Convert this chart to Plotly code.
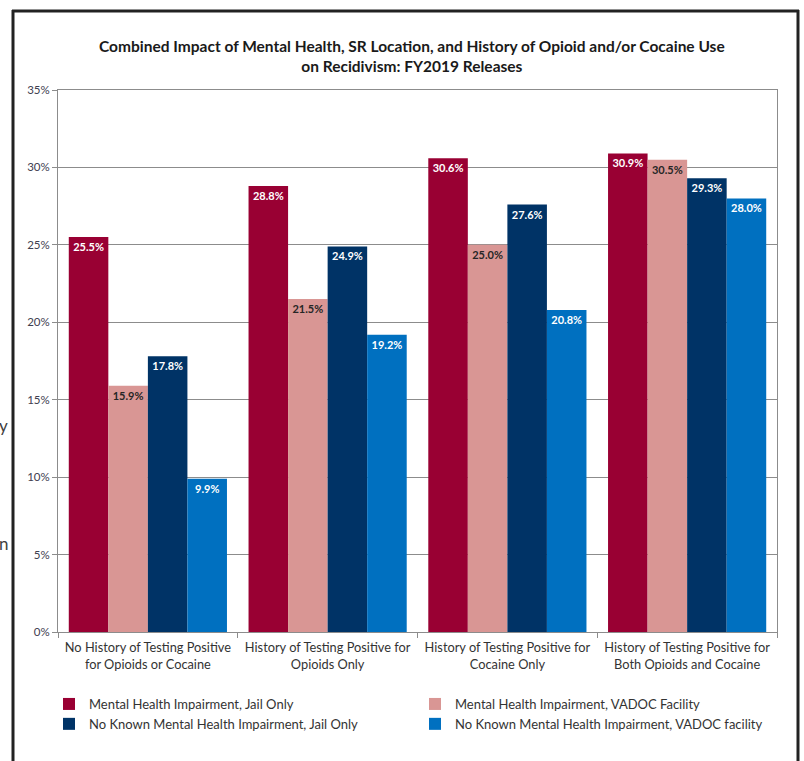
import plotly.graph_objects as go

categories = [
    "No History of Testing Positive<br>for Opioids or Cocaine",
    "History of Testing Positive for<br>Opioids Only",
    "History of Testing Positive for<br>Cocaine Only",
    "History of Testing Positive for<br>Both Opioids and Cocaine",
]
series_names = [
    "Mental Health Impairment, Jail Only",
    "Mental Health Impairment, VADOC Facility",
    "No Known Mental Health Impairment, Jail Only",
    "No Known Mental Health Impairment, VADOC facility",
]
mh_jail = [25.5, 28.8, 30.6, 30.9]
mh_vadoc = [15.9, 21.5, 25.0, 30.5]
nomh_jail = [17.8, 24.9, 27.6, 29.3]
nomh_vadoc = [9.9, 19.2, 20.8, 28.0]
y_ticks = [0, 5, 10, 15, 20, 25, 30, 35]

values = [mh_jail, mh_vadoc, nomh_jail, nomh_vadoc]
colors = ["#990033", "#D99694", "#003366", "#0070C0"]
label_colors = ["white", "#262626", "white", "white"]
legends = ["legend", "legend2", "legend", "legend2"]

FONT = "Lato, 'Open Sans', sans-serif"

fig = go.Figure()
for name, vals, c, lc, lg in zip(series_names, values, colors, label_colors, legends):
    fig.add_trace(go.Bar(
        x=categories, y=vals, name=name,
        marker=dict(color=c, line=dict(width=0)),
        text=[f"{v:.1f}%" for v in vals],
        textposition="inside", insidetextanchor="end", textangle=0,
        textfont=dict(family=FONT, size=11, color=lc, weight="bold"),
        legend=lg,
    ))

W, H = 804, 761
L, R, T, B = 58, 27, 90, 129
pw, ph = W - L - R, H - T - B

def px(x):
    return (x - L) / pw

def py(y):
    return (H - B - y) / ph

fig.update_layout(
    width=W, height=H,
    margin=dict(l=L, r=R, t=T, b=B),
    paper_bgcolor="white", plot_bgcolor="white",
    barmode="group", bargap=0.12, bargroupgap=0,
    font=dict(family=FONT, color="#333333"),
    showlegend=True,
    uniformtext=dict(mode="show", minsize=8),
    yaxis=dict(
        range=[0, 35], tickvals=y_ticks,
        ticktext=[f"{t}%" for t in y_ticks],
        showgrid=True, gridcolor="#8c8c8c", gridwidth=1,
        showline=True, linecolor="#8c8c8c", linewidth=1, mirror=True,
        ticks="outside", ticklen=5, tickcolor="#8c8c8c",
        tickfont=dict(size=11.5, color="#404050", family=FONT),
        zeroline=False, fixedrange=True,
    ),
    xaxis=dict(
        showline=True, linecolor="#8c8c8c", linewidth=1, mirror=True,
        ticks="outside", ticklen=5, tickcolor="#8c8c8c", tickson="boundaries",
        tickfont=dict(size=12.8, color="#333333", family=FONT),
        ticklabelstandoff=4,
        fixedrange=True,
    ),
    legend=dict(
        orientation="v", x=px(49), y=py(689), xanchor="left", yanchor="top",
        font=dict(size=13, color="#333333", family=FONT),
        bgcolor="rgba(0,0,0,0)", itemsizing="constant", tracegroupgap=0,
    ),
    legend2=dict(
        orientation="v", x=px(415), y=py(689), xanchor="left", yanchor="top",
        font=dict(size=13, color="#333333", family=FONT),
        bgcolor="rgba(0,0,0,0)", itemsizing="constant", tracegroupgap=0,
    ),
    annotations=[
        dict(text="<b>Combined Impact of Mental Health, SR Location, and History of Opioid and/or Cocaine Use<br>on Recidivism: FY2019 Releases</b>",
             x=px(412), y=py(56), xref="paper", yref="paper",
             xanchor="center", yanchor="middle", showarrow=False,
             font=dict(size=15.5, color="#1a1a1a", family=FONT)),
        dict(text="y", x=px(-2), y=py(425), xref="paper", yref="paper",
             xanchor="left", yanchor="middle", showarrow=False, borderpad=0,
             font=dict(size=17, color="#404040", family=FONT)),
        dict(text="n", x=px(-2), y=py(543), xref="paper", yref="paper",
             xanchor="left", yanchor="middle", showarrow=False, borderpad=0,
             font=dict(size=17, color="#404040", family=FONT)),
    ],
    shapes=[
        dict(type="line", xref="paper", yref="paper", x0=px(13), x1=px(13),
             y0=py(10), y1=py(770), line=dict(color="#222222", width=3)),
        dict(type="line", xref="paper", yref="paper", x0=px(798), x1=px(798),
             y0=py(10), y1=py(770), line=dict(color="#222222", width=3)),
        dict(type="line", xref="paper", yref="paper", x0=px(12), x1=px(799),
             y0=py(11), y1=py(11), line=dict(color="#222222", width=3)),
    ],
)

fig.write_html("out.html")
